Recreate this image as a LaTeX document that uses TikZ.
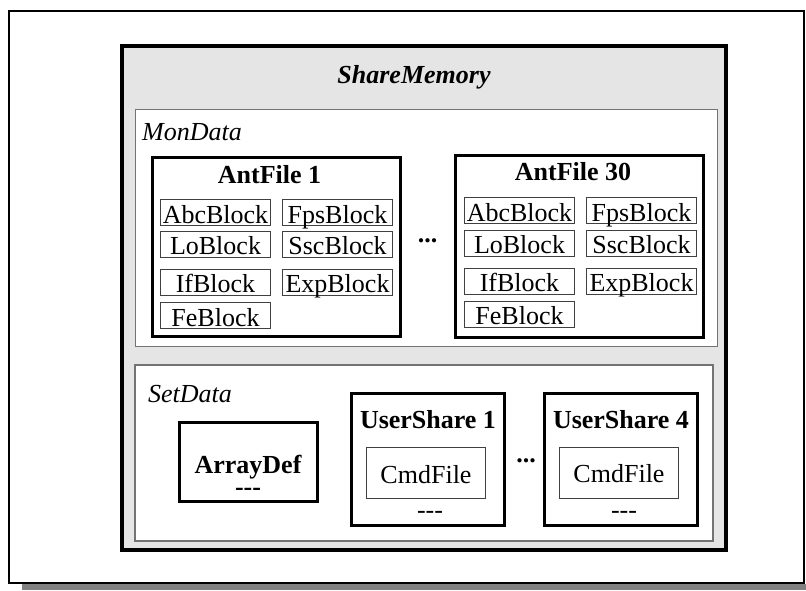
\documentclass[tikz,border=0pt]{standalone}
\usepackage{fontspec}
\setmainfont{Liberation Serif}
\begin{document}
\begin{tikzpicture}[x=1pt,y=-1pt,
  every node/.style={font=\fontsize{26}{30}\selectfont},
  memory/.style={draw, line width=4pt, fill=black!10, inner sep=0pt},
  region/.style={draw=black!55, line width=1.5pt, fill=white, inner sep=0pt},
  filebox/.style={draw, line width=3pt, fill=white, inner sep=0pt},
  block/.style={draw=black!75, line width=0.9pt, inner sep=0pt,
    minimum width=110pt, minimum height=26pt, text height=21pt, text depth=0pt},
  cmdbox/.style={draw=black!75, line width=0.9pt, inner sep=0pt,
    minimum width=119pt, minimum height=51pt, text height=20pt, text depth=0pt},
  label/.style={inner sep=0pt, anchor=base},
  title/.style={label, font=\fontsize{26}{30}\selectfont\bfseries},
]
\useasboundingbox (0,0) rectangle (806,590);

% page frame with its shadow
\fill[black!50] (22,584) rectangle (806,590);
\draw[line width=2pt, fill=white] (9,11) rectangle (804,583);

% shared memory and its two regions
\node[memory, minimum width=604pt, minimum height=504pt] (mem) at (424,298) {};
\node[label, font=\fontsize{26}{30}\selectfont\bfseries\itshape] (memtitle) at (414,83) {ShareMemory};

\node[region, minimum width=582pt, minimum height=237pt] (mon) at (426.5,228) {};
\node[label, anchor=base west, font=\fontsize{26}{30}\selectfont\itshape] (montitle) at (142,140) {MonData};

\node[region, minimum width=578pt, minimum height=176pt] (set) at (424,453) {};
\node[label, anchor=base west, font=\fontsize{26}{30}\selectfont\itshape] (settitle) at (148,402) {SetData};

% antenna files
\node[filebox, minimum width=248pt, minimum height=179pt] (ant1) at (276.5,247) {};
\node[title] (ant1title) at (269.5,183) {AntFile 1};
\node[block] (abc1) at (215.5,212.5) {AbcBlock};
\node[block] (fps1) at (337.5,212.5) {FpsBlock};
\node[block] (lo1)  at (215.5,244)   {LoBlock};
\node[block] (ssc1) at (337.5,244)   {SscBlock};
\node[block] (if1)  at (215.5,282)   {IfBlock};
\node[block] (exp1) at (337.5,282)   {ExpBlock};
\node[block] (fe1)  at (215.5,315.5) {FeBlock};

\node[title] (antdots) at (427.5,242) {...};

\node[filebox, minimum width=248pt, minimum height=182pt] (ant30) at (579.5,246.5) {};
\node[title] (ant30title) at (573,180) {AntFile 30};
\node[block] (abc30) at (519.5,210.5) {AbcBlock};
\node[block] (fps30) at (641.5,210.5) {FpsBlock};
\node[block] (lo30)  at (519.5,243)   {LoBlock};
\node[block] (ssc30) at (641.5,243)   {SscBlock};
\node[block] (if30)  at (519.5,281)   {IfBlock};
\node[block] (exp30) at (641.5,281)   {ExpBlock};
\node[block] (fe30)  at (519.5,314)   {FeBlock};

% settings data; the base anchor of a two-line label sits on its last line
\node[filebox, minimum width=138pt, minimum height=79pt] (arr) at (248.5,462) {};
\node[title, align=center, font=\fontsize{26}{22}\selectfont\bfseries] (arrtitle) at (248,495) {ArrayDef\\-{}-{}-};

\node[filebox, minimum width=153pt, minimum height=132pt] (us1) at (428,459.5) {};
\node[title] (us1title) at (428,428) {UserShare 1};
\node[cmdbox] (cmd1) at (426,473) {CmdFile};
\node[label] (us1more) at (430,518) {-{}-{}-};

\node[title] (usdots) at (526,462) {...};

\node[filebox, minimum width=153pt, minimum height=132pt] (us4) at (621,459.5) {};
\node[title] (us4title) at (621,428) {UserShare 4};
\node[cmdbox] (cmd4) at (619,472.5) {CmdFile};
\node[label] (us4more) at (624,518) {-{}-{}-};
\end{tikzpicture}
\end{document}
